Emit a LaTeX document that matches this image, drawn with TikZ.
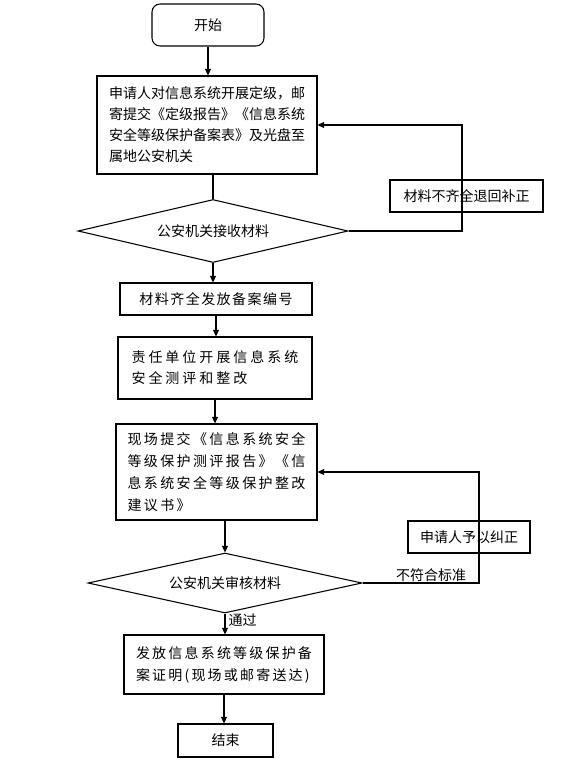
\documentclass[tikz,border=0pt]{standalone}
\usepackage{fontspec}
\usetikzlibrary{shapes.geometric,arrows.meta,calc}
\newfontfamily\cjk{Noto Sans CJK SC}
\newfontfamily\cjkb[LetterSpace=10.5]{Noto Sans CJK SC}
\newfontfamily\cjkc[LetterSpace=21.4]{Noto Sans CJK SC}
\newfontfamily\cjkd[LetterSpace=17.1]{Noto Sans CJK SC}
\newfontfamily\cjke[LetterSpace=15.7]{Noto Sans CJK SC}
\newdimen\pxu \pxu=0.75pt
\begin{document}
\begin{tikzpicture}[x=0.75pt,y=-0.75pt,
  line width=0.8pt,
  basefont/.style={font={#1\fontsize{10.5}{15.75}\selectfont}},
  basefont/.default=\cjk,
  widefont/.style={font={#1\fontsize{10.5}{16.5}\selectfont}},
  box/.style={draw, align=left, inner sep=0pt, basefont},
  rbox/.style={box, rounded corners=6pt},
  dia/.style={draw, diamond, aspect=4.3, inner sep=0pt, basefont},
  lbl/.style={inner sep=0pt, basefont},
  arr/.style={-{Triangle[length=5pt,width=4.5pt]}}
]
\useasboundingbox (0,0) rectangle (578,764);

\node[rbox, minimum width=112\pxu, minimum height=42\pxu] (start) at (208,25) {开始};
\node[box, minimum width=220\pxu, minimum height=98\pxu] (b1) at (207,125)
  {申请人对信息系统开展定级，邮\\寄提交《定级报告》《信息系统\\安全等级保护备案表》及光盘至\\属地公安机关};
\node[dia, minimum width=270\pxu, minimum height=63\pxu] (d1) at (213,231) {公安机关接收材料};
\node[box, minimum width=153\pxu, minimum height=32\pxu] (ret) at (466.5,196) {材料不齐全退回补正};
\node[box, basefont=\cjkb, minimum width=192\pxu, minimum height=32\pxu] (b2) at (216,299) {材料齐全发放备案编号};
\node[box, basefont=\cjkc, minimum width=194\pxu, minimum height=62\pxu] (b3) at (215,368)
  {责任单位开展信息系统\\安全测评和整改};
\node[box, widefont=\cjkd, minimum width=201\pxu, minimum height=96\pxu] (b4) at (216.5,472)
  {现场提交《信息系统安全\\等级保护测评报告》《信\\息系统安全等级保护整改\\建议书》};
\node[box, minimum width=122\pxu, minimum height=32\pxu] (fix) at (469,537) {申请人予以纠正};
\node[dia, minimum width=274\pxu, minimum height=60\pxu] (d2) at (225,583) {公安机关审核材料};
\node[box, widefont=\cjke, minimum width=200\pxu, minimum height=59\pxu] (b5) at (224,664.5)
  {发放信息系统等级保护备\\案证明(现场或邮寄送达)};
\node[box, minimum width=95\pxu, minimum height=33\pxu] (end) at (225.5,740.5) {结束};

\coordinate (loop1) at (462,196);
\coordinate (loop2) at (479,537);

\draw[arr] (start.south) -- (start.south |- b1.north);
\draw (d1.north) -- (d1.north |- b1.south);
\draw[arr] (d1.south) -- (d1.south |- b2.north);
\draw[arr] (b2.south) -- (b2.south |- b3.north);
\draw[arr] (b3.south) -- (b3.south |- b4.north);
\draw[arr] (d2.north |- b4.south) -- (d2.north);
\draw[arr] (d2.south) -- (d2.south |- b5.north);
\draw[arr] (b5.south) -- (b5.south |- end.north);
\draw[arr] (d1.east) -| (loop1) |- (b1.east);
\draw[arr] (d2.east) -| (loop2) |- (b4.east);

\node[lbl, anchor=west] (pass) at (228,620) {通过};
\node[lbl, anchor=south] (nok) at (431,582) {不符合标准};
\end{tikzpicture}
\end{document}
